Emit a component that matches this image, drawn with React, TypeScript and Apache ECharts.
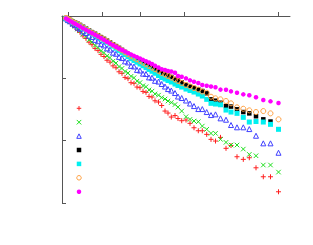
import React, { useEffect, useRef } from "react";
import * as echarts from "echarts";

// x positions (arbitrary linear units, axis spans 0..228)
const xs = [
  4, 6, 8, 10.5, 13, 15.5, 18, 21, 24, 27, 30, 33, 36, 39, 42, 45, 48, 51, 54, 57, 60, 63, 66, 69, 72, 75, 78, 81, 84, 87, 90, 93, 96.5,
  99.7, 103, 106, 109.3, 113, 116, 119.7, 124, 128, 132, 136.3, 140.3, 144.7, 149, 153.5, 158.5, 164, 169, 175, 181.3, 187.3, 194, 201.3, 208.5, 216.5,
];
const xTicks = [6.3, 40.3, 78.7, 122, 216.3];

// y values: decades below the top of the axis (log10 scale, 0 = top, 3 = bottom)
const red = [
  0.04, 0.075, 0.1, 0.15, 0.18, 0.23, 0.262, 0.32, 0.36, 0.42, 0.46, 0.52, 0.555, 0.615, 0.65, 0.71, 0.74, 0.8, 0.83, 0.895, 0.92, 0.985, 1.005, 1.07, 1.08, 1.14, 1.15, 1.21, 1.225, 1.29, 1.3, 1.36, 1.38,
  1.436, 1.525, 1.557, 1.621, 1.597, 1.645, 1.68, 1.669, 1.722, 1.793, 1.841, 1.841, 1.899, 1.979, 2.006, 1.947, 2.123, 2.078, 2.258, 2.3, 2.274, 2.435, 2.579, 2.579, 2.82,
];
const green = [
  0.04, 0.07, 0.094, 0.135, 0.166, 0.21, 0.238, 0.292, 0.328, 0.383, 0.418, 0.472, 0.505, 0.558, 0.588, 0.64, 0.668, 0.725, 0.755, 0.812, 0.84, 0.89, 0.915, 0.968, 0.99, 1.045, 1.068, 1.118, 1.135, 1.186, 1.205, 1.25, 1.27,
  1.308, 1.332, 1.364, 1.388, 1.42, 1.461, 1.525, 1.616, 1.658, 1.685, 1.696, 1.766, 1.818, 1.883, 1.883, 1.979, 2.027, 2.07, 2.07, 2.135, 2.22, 2.242, 2.391, 2.391, 2.504,
];
const blue = [
  0.04, 0.066, 0.085, 0.122, 0.146, 0.184, 0.205, 0.248, 0.272, 0.316, 0.338, 0.383, 0.405, 0.452, 0.472, 0.52, 0.54, 0.588, 0.606, 0.656, 0.675, 0.728, 0.745, 0.8, 0.81, 0.865, 0.875, 0.925, 0.93, 0.985, 0.99, 1.04, 1.052,
  1.091, 1.132, 1.172, 1.196, 1.236, 1.292, 1.316, 1.356, 1.404, 1.445, 1.493, 1.493, 1.541, 1.589, 1.578, 1.642, 1.664, 1.749, 1.786, 1.786, 1.814, 1.921, 2.043, 2.043, 2.194,
];
const black = [
  0.032, 0.048, 0.064, 0.084, 0.104, 0.124, 0.144, 0.173, 0.202, 0.231, 0.259, 0.285, 0.311, 0.339, 0.367, 0.396, 0.425, 0.454, 0.483, 0.512, 0.544, 0.578, 0.612, 0.643, 0.669, 0.696, 0.722, 0.746, 0.771, 0.795, 0.82, 0.845, 0.875,
  0.907, 0.931, 0.955, 0.979, 1.011, 1.035, 1.067, 1.107, 1.131, 1.156, 1.18, 1.204, 1.241, 1.337, 1.359, 1.392, 1.445, 1.453, 1.497, 1.541, 1.562, 1.608, 1.658, 1.693, null,
];
const cyan = [
  0.04, 0.056, 0.072, 0.094, 0.117, 0.139, 0.161, 0.19, 0.219, 0.247, 0.276, 0.305, 0.334, 0.363, 0.391, 0.42, 0.449, 0.483, 0.517, 0.551, 0.584, 0.618, 0.652, 0.684, 0.713, 0.741, 0.77, 0.799, 0.828, 0.857, 0.887, 0.919, 0.955,
  0.987, 1.011, 1.035, 1.059, 1.091, 1.115, 1.14, 1.172, 1.196, 1.22, 1.252, 1.284, 1.337, 1.401, 1.412, 1.424, 1.509, 1.541, 1.562, 1.626, 1.701, 1.693, 1.701, 1.738, 1.818,
];
const orange = [
  0.032, 0.048, 0.064, 0.086, 0.108, 0.13, 0.152, 0.181, 0.21, 0.239, 0.267, 0.293, 0.319, 0.347, 0.375, 0.404, 0.433, 0.462, 0.491, 0.52, 0.551, 0.582, 0.613, 0.643, 0.67, 0.696, 0.722, 0.749, 0.775, 0.802, 0.828, 0.854, 0.883,
  0.915, 0.939, 0.963, 0.987, 1.019, 1.043, 1.075, 1.107, 1.131, 1.156, 1.18, 1.212, 1.231, 1.295, 1.321, 1.337, 1.364, 1.401, 1.465, 1.488, 1.514, 1.541, 1.525, 1.562, 1.658,
];
const magenta = [
  0.04, 0.06, 0.08, 0.102, 0.124, 0.147, 0.169, 0.195, 0.222, 0.248, 0.275, 0.301, 0.327, 0.355, 0.383, 0.412, 0.441, 0.468, 0.494, 0.521, 0.546, 0.57, 0.594, 0.617, 0.639, 0.66, 0.682, 0.704, 0.725, 0.747, 0.771, 0.797, 0.827,
  0.855, 0.867, 0.883, 0.891, 0.91, 0.963, 0.974, 1.0, 1.032, 1.054, 1.075, 1.107, 1.119, 1.132, 1.143, 1.181, 1.184, 1.209, 1.231, 1.257, 1.271, 1.303, 1.348, 1.369, 1.396,
];

const seriesNames = ["s1", "s2", "s3", "s4", "s5", "s6", "s7"];

const PLUS = "path://M2.5,0V5M0,2.5H5";
const CROSS = "path://M0,0L5,5M5,0L0,5";

type Kind = "plus" | "cross" | "tri" | "rect" | "circle";

function legendMark(kind: Kind, fill: string, stroke: string, cx: number, cy: number, s: number) {
  const h = s / 2;
  const strokeStyle = { stroke, lineWidth: 1, fill: "none" };
  switch (kind) {
    case "plus":
      return [
        { type: "line", shape: { x1: cx - h, y1: cy, x2: cx + h, y2: cy }, style: strokeStyle },
        { type: "line", shape: { x1: cx, y1: cy - h, x2: cx, y2: cy + h }, style: strokeStyle },
      ];
    case "cross":
      return [
        { type: "line", shape: { x1: cx - h, y1: cy - h, x2: cx + h, y2: cy + h }, style: strokeStyle },
        { type: "line", shape: { x1: cx - h, y1: cy + h, x2: cx + h, y2: cy - h }, style: strokeStyle },
      ];
    case "tri":
      return [
        {
          type: "polygon",
          shape: { points: [[cx, cy - h], [cx + h, cy + h], [cx - h, cy + h]] },
          style: strokeStyle,
        },
      ];
    case "rect":
      return [{ type: "rect", shape: { x: cx - h, y: cy - h, width: s, height: s }, style: { fill } }];
    default:
      return fill === "none"
        ? [{ type: "circle", shape: { cx, cy, r: h }, style: strokeStyle }]
        : [{ type: "circle", shape: { cx, cy, r: h }, style: { fill } }];
  }
}

export default function App() {
  const ref = useRef<HTMLDivElement>(null);
  useEffect(() => {
    if (!ref.current) return;
    const chart = echarts.init(ref.current, null, { renderer: "svg" });
    const toData = (ys: (number | null)[]) =>
      xs.map((x, i) => [x, ys[i]]).filter((p) => p[1] !== null);
    const defs: { ys: (number | null)[]; symbol: string; kind: Kind; size: number; color: string; border: string; bw: number }[] = [
      { ys: red, symbol: PLUS, kind: "plus", size: 5, color: "none", border: "#ff2020", bw: 1 },
      { ys: green, symbol: CROSS, kind: "cross", size: 4.5, color: "none", border: "#20e020", bw: 1 },
      { ys: blue, symbol: "triangle", kind: "tri", size: 5, color: "none", border: "#4040ff", bw: 1 },
      { ys: black, symbol: "rect", kind: "rect", size: 4.5, color: "#000000", border: "#000000", bw: 0 },
      { ys: cyan, symbol: "rect", kind: "rect", size: 5, color: "#00f0f0", border: "#00f0f0", bw: 0 },
      { ys: orange, symbol: "circle", kind: "circle", size: 5, color: "none", border: "#ffa040", bw: 1 },
      { ys: magenta, symbol: "circle", kind: "circle", size: 4.5, color: "#ff00ff", border: "#ff00ff", bw: 0 },
    ];
    const legendX = 79;
    const legendY0 = 108.3;
    const legendStep = 13.9;
    const legendChildren = defs.flatMap((d, i) =>
      legendMark(d.kind, d.color, d.border, legendX, legendY0 + i * legendStep, Math.min(d.size, 4.5))
    );
    chart.setOption({
      animation: false,
      grid: { left: 62, top: 16, width: 228, height: 187, containLabel: false },
      graphic: [{ type: "group", children: legendChildren, silent: true }],
      xAxis: {
        type: "value",
        min: 0,
        max: 228,
        axisLine: { show: true, lineStyle: { color: "#555", width: 1 } },
        axisTick: { show: true, inside: true, length: 4, customValues: xTicks, lineStyle: { color: "#555" } },
        axisLabel: { show: false },
        splitLine: { show: false },
      },
      yAxis: {
        type: "value",
        inverse: true,
        min: 0,
        max: 3,
        interval: 1,
        axisLine: { show: true, lineStyle: { color: "#555", width: 1 } },
        axisTick: { show: true, inside: true, length: 4, lineStyle: { color: "#555" } },
        axisLabel: { show: false },
        splitLine: { show: false },
      },
      series: defs.map((d, i) => ({
        name: seriesNames[i],
        type: "scatter",
        symbol: d.symbol,
        symbolSize: d.size,
        itemStyle: { color: d.color, borderColor: d.border, borderWidth: d.bw, opacity: 1 },
        data: toData(d.ys),
      })),
    });
    return () => chart.dispose();
  }, []);
  return (
    <div
      ref={ref}
      style={{ position: "absolute", left: 0, top: 0, width: 313, height: 245, background: "#fff" }}
    />
  );
}
